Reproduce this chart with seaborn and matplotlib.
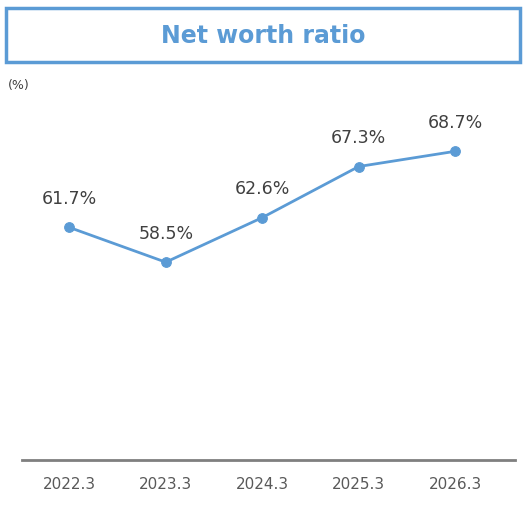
import matplotlib
matplotlib.use("Agg")
import matplotlib.pyplot as plt
from matplotlib.patches import Rectangle
import seaborn as sns
import pandas as pd

years = ["2022.3", "2023.3", "2024.3", "2025.3", "2026.3"]
ratio = [61.7, 58.5, 62.6, 67.3, 68.7]

blue = "#5B9BD5"
df = pd.DataFrame({"x": range(len(years)), "y": ratio})

sns.set_style("white")
fig = plt.figure(figsize=(5.27, 5.13), dpi=100)
ax = fig.add_axes([22 / 527, 1 - 460 / 513, (515 - 22) / 527, (460 - 85) / 513])
sns.lineplot(data=df, x="x", y="y", ax=ax, color=blue, lw=2, marker="o",
             markersize=7, markeredgecolor=blue)
ax.set_ylim(40.3, 74.8)
ax.set_xlim(-0.49, 4.62)
ax.set_xticks(range(len(years)))
ax.set_xticklabels(years, fontsize=11, color="#595959")
ax.set_yticks([])
ax.set_xlabel("")
ax.set_ylabel("")
ax.tick_params(axis="x", length=0, pad=12)
for s in ["top", "left", "right"]:
    ax.spines[s].set_visible(False)
ax.spines["bottom"].set_color("#7f7f7f")
ax.spines["bottom"].set_linewidth(2)
for i, v in enumerate(ratio):
    ax.annotate(f"{v}%", (i, v), xytext=(0, 14), textcoords="offset points",
                ha="center", va="bottom", fontsize=12.5, color="#404040")

fig.patches.append(Rectangle((6 / 527, 1 - 62 / 513), 514 / 527, 54 / 513,
                             transform=fig.transFigure, fill=False,
                             edgecolor=blue, lw=2.5))
fig.text(0.5, 1 - 36 / 513, "Net worth ratio", ha="center", va="center",
         fontsize=17, fontweight="bold", color=blue)
fig.text(8 / 527, 1 - 85 / 513, "(%)", ha="left", va="center", fontsize=9,
         color="#404040")

fig.savefig("out.png", dpi=100)
